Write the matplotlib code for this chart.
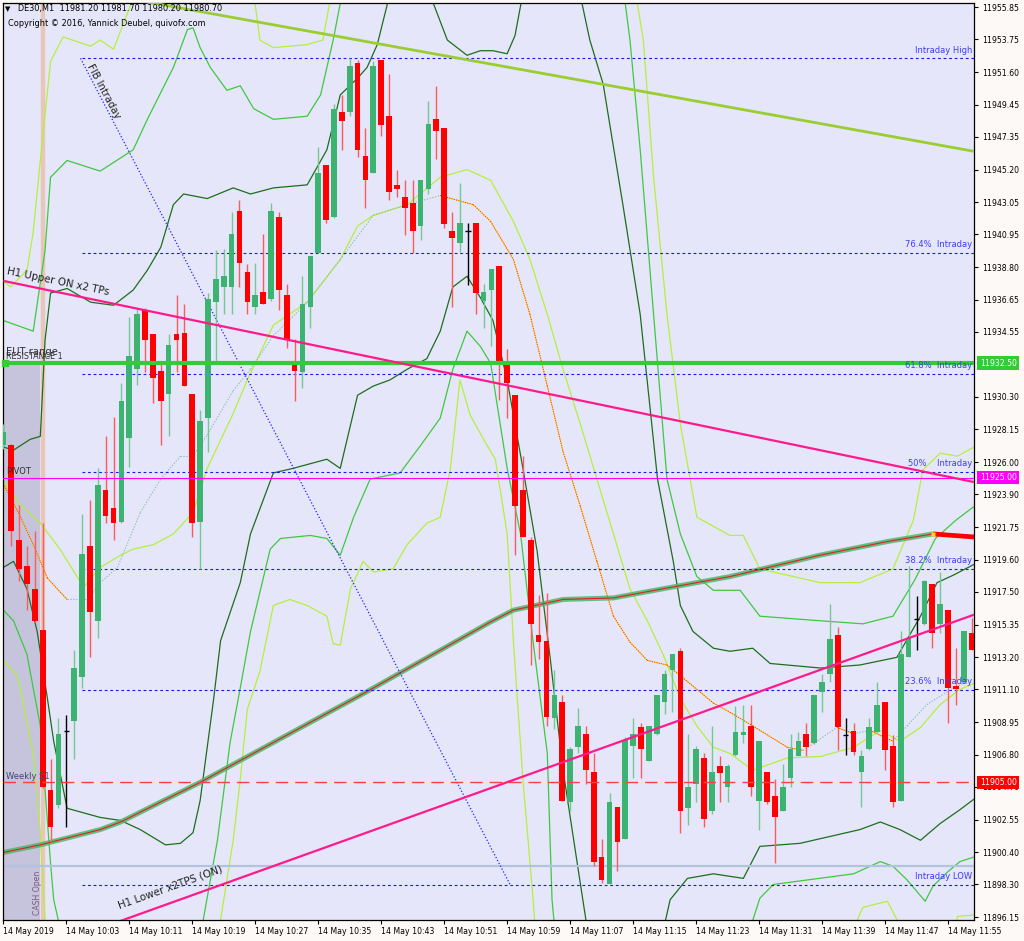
import matplotlib
matplotlib.use('Agg')
import matplotlib.pyplot as plt
import matplotlib.transforms as mtransforms

# DE30 M1 candles, bar 0 = 14 May 2019 09:55
opens = [11927.1, 11927.1, 11920.9, 11919.2, 11917.7, 11915.0, 11904.5, 11903.5, 11908.4, 11909.0,
         11911.9, 11920.5, 11915.6, 11924.2, 11923.0, 11922.1, 11927.6, 11932.1, 11936.0, 11934.4,
         11932.0, 11930.5, 11934.4, 11934.5, 11930.5, 11922.1, 11928.9, 11936.5, 11937.5, 11937.5,
         11942.5, 11938.5, 11936.2, 11937.2, 11936.7, 11942.1, 11937.0, 11932.6, 11931.9, 11936.2,
         11939.7, 11945.5, 11942.1, 11949.0, 11949.0, 11952.2, 11946.1, 11945.0, 11952.4, 11948.7,
         11944.2, 11943.4, 11943.0, 11941.5, 11943.9, 11948.5, 11947.9, 11941.2, 11940.4, 11941.2,
         11941.7, 11936.6, 11937.3, 11938.9, 11932.5, 11930.4, 11924.2, 11920.9, 11914.7, 11914.3,
         11909.2, 11910.3, 11903.7, 11907.3, 11908.2, 11905.7, 11900.1, 11898.3, 11903.4, 11901.3,
         11907.4, 11908.6, 11906.4, 11908.2, 11910.3, 11912.4, 11913.6, 11903.3, 11904.9, 11906.6,
         11903.1, 11906.1, 11904.7, 11906.8, 11908.1, 11908.7, 11903.8, 11905.7, 11904.1, 11903.1,
         11905.3, 11906.7, 11908.2, 11907.6, 11910.9, 11912.1, 11914.7, 11908.1, 11908.4, 11905.7,
         11907.2, 11908.3, 11910.3, 11907.4, 11903.8, 11913.2, 11915.7, 11915.4, 11918.0, 11915.4,
         11916.3, 11911.3, 11911.6, 11914.8]
highs = [11928.5, 11927.2, 11923.2, 11920.5, 11921.5, 11922.0, 11906.5, 11909.2, 11909.4, 11913.7,
         11922.6, 11923.5, 11925.6, 11927.7, 11929.0, 11931.2, 11935.5, 11936.1, 11936.1, 11934.4,
         11932.5, 11934.4, 11937.0, 11936.4, 11930.5, 11929.4, 11937.1, 11939.9, 11940.0, 11942.4,
         11943.2, 11939.0, 11939.1, 11941.0, 11943.0, 11942.4, 11937.7, 11934.1, 11938.2, 11939.5,
         11946.7, 11945.5, 11949.5, 11950.1, 11952.5, 11952.4, 11947.9, 11952.3, 11952.4, 11951.5,
         11945.2, 11944.5, 11944.5, 11944.5, 11949.7, 11950.7, 11947.9, 11942.4, 11944.3, 11941.7,
         11941.7, 11937.7, 11938.7, 11938.9, 11933.4, 11930.4, 11926.4, 11921.1, 11917.3, 11917.4,
         11912.4, 11910.7, 11907.3, 11909.9, 11908.7, 11906.9, 11901.3, 11904.3, 11903.4, 11908.0,
         11909.2, 11908.9, 11908.7, 11910.7, 11912.4, 11913.4, 11913.8, 11908.2, 11907.4, 11906.9,
         11908.7, 11906.7, 11906.2, 11910.0, 11910.1, 11910.1, 11907.7, 11905.7, 11905.2, 11906.2,
         11908.2, 11908.3, 11908.9, 11910.7, 11912.1, 11916.7, 11915.2, 11909.2, 11908.9, 11907.1,
         11909.2, 11911.6, 11910.3, 11908.1, 11914.9, 11919.2, 11917.2, 11918.3, 11918.0, 11918.8,
         11916.3, 11913.8, 11914.9, 11915.8]
lows = [11926.9, 11920.5, 11918.2, 11916.3, 11915.5, 11904.6, 11901.1, 11903.3, 11902.1, 11906.5,
        11911.2, 11913.2, 11914.5, 11922.0, 11920.9, 11922.0, 11925.7, 11931.1, 11931.9, 11929.9,
        11927.1, 11927.7, 11931.9, 11931.0, 11921.1, 11919.0, 11926.7, 11932.5, 11935.7, 11935.7,
        11937.5, 11935.7, 11935.7, 11936.4, 11936.6, 11936.0, 11933.5, 11930.0, 11930.9, 11934.8,
        11939.7, 11941.7, 11942.0, 11946.5, 11948.7, 11946.0, 11942.7, 11945.0, 11947.4, 11943.2,
        11943.4, 11940.9, 11939.7, 11940.6, 11943.6, 11945.9, 11941.4, 11936.2, 11939.8, 11937.6,
        11935.7, 11934.8, 11933.6, 11930.1, 11928.9, 11919.9, 11921.1, 11912.7, 11913.1, 11908.7,
        11908.5, 11903.8, 11903.1, 11906.9, 11904.9, 11899.5, 11898.4, 11898.3, 11899.2, 11901.3,
        11905.3, 11905.3, 11906.4, 11908.1, 11909.5, 11909.6, 11901.7, 11902.2, 11903.7, 11902.1,
        11902.9, 11903.7, 11903.7, 11906.7, 11907.6, 11904.1, 11901.9, 11903.6, 11899.7, 11903.1,
        11904.7, 11906.7, 11906.7, 11907.5, 11909.6, 11911.6, 11907.1, 11906.8, 11906.8, 11903.4,
        11907.1, 11908.3, 11905.8, 11903.4, 11903.8, 11913.2, 11913.7, 11915.3, 11913.8, 11914.8,
        11908.9, 11910.1, 11911.6, 11913.7]
closes = [11928.0, 11921.5, 11919.0, 11918.0, 11915.6, 11904.7, 11902.1, 11908.2, 11908.4, 11912.5,
          11920.0, 11916.2, 11924.5, 11922.5, 11922.0, 11930.0, 11933.0, 11935.7, 11934.0, 11931.5,
          11930.0, 11933.7, 11934.0, 11931.0, 11922.0, 11928.7, 11936.7, 11938.0, 11938.2, 11941.0,
          11939.1, 11936.5, 11937.0, 11936.4, 11942.5, 11937.3, 11934.0, 11932.0, 11936.4, 11939.5,
          11945.0, 11941.9, 11949.2, 11948.4, 11952.0, 11946.5, 11944.5, 11952.0, 11948.1, 11943.7,
          11943.9, 11942.7, 11941.2, 11944.5, 11948.2, 11947.7, 11941.6, 11940.7, 11941.7, 11941.2,
          11937.1, 11937.2, 11938.7, 11932.4, 11931.2, 11923.1, 11921.1, 11915.4, 11914.2, 11909.3,
          11910.7, 11903.8, 11907.2, 11908.7, 11905.8, 11899.8, 11898.6, 11903.7, 11901.1, 11907.8,
          11908.2, 11907.2, 11908.7, 11910.7, 11912.1, 11913.4, 11903.1, 11904.7, 11907.2, 11902.6,
          11905.7, 11905.6, 11906.1, 11908.3, 11908.3, 11904.7, 11907.7, 11903.7, 11902.7, 11904.7,
          11907.2, 11907.7, 11907.3, 11910.7, 11911.6, 11914.4, 11908.6, 11908.1, 11907.0, 11906.7,
          11908.6, 11910.1, 11907.1, 11903.7, 11913.4, 11914.5, 11915.7, 11918.2, 11914.8, 11916.7,
          11911.2, 11911.1, 11914.9, 11913.7]

tick_bars = [0, 8, 16, 24, 32, 40, 48, 56, 64, 72, 80, 88, 96, 104, 112, 120]
tick_labels = ['14 May 2019', '14 May 10:03', '14 May 10:11', '14 May 10:19', '14 May 10:27',
               '14 May 10:35', '14 May 10:43', '14 May 10:51', '14 May 10:59', '14 May 11:07',
               '14 May 11:15', '14 May 11:23', '14 May 11:31', '14 May 11:39', '14 May 11:47',
               '14 May 11:55']
price_ticks = [11955.85, 11953.75, 11951.60, 11949.45, 11947.35, 11945.20, 11943.05, 11940.95,
               11938.80, 11936.65, 11934.55, 11930.30, 11928.15, 11926.00, 11923.90, 11921.75,
               11919.60, 11917.50, 11915.35, 11913.20, 11911.10, 11908.95, 11906.80, 11904.70,
               11902.55, 11900.40, 11898.30, 11896.15]

# levels
resistance1 = 11932.50
pivot = 11925.00
weekly_s1 = 11905.00
range_low = 11899.52
fib_prices = [11952.50, 11939.71, 11931.78, 11925.39, 11918.99, 11911.07, 11898.27]
fib_names = ['Intraday High', '76.4%  Intraday', '61.8%  Intraday', '50%    Intraday',
             '38.2%  Intraday', '23.6%  Intraday', 'Intraday LOW']
fib_start = 10.0
fib_diag = [(9.8, 11952.50), (64.4, 11898.27)]

# trend lines (bar, price)
tl_top = [(0, 11957.9), (123.3, 11946.4)]
tl_upper = [(0, 11937.9), (123.3, 11924.7)]
tl_lower = [(0, 11893.15), (123.3, 11916.0)]

# long moving average (knots)
ma_long = [(0, 11900.4), (4.7, 11900.9), (12.3, 11901.9), (14.9, 11902.4), (25.0, 11905.0),
           (31.4, 11906.8), (46.0, 11910.9), (61.8, 11915.5), (64.8, 11916.3), (71.1, 11917.0),
           (77.5, 11917.1), (83.8, 11917.7), (92.3, 11918.5), (103.7, 11919.9), (112.3, 11920.8),
           (118.1, 11921.3), (120.6, 11921.2), (123.3, 11921.1)]
ma_turn = 118.1

# bands
dg_upper = [(0, 11927.0), (1.3, 11926.8), (3.4, 11927.5), (4.7, 11927.7), (5.3, 11934.0),
            (6.0, 11937.1), (8.1, 11937.4), (11.1, 11936.5), (14.0, 11936.3), (16.5, 11937.3),
            (18.3, 11938.6), (20.0, 11940.1), (21.6, 11942.9), (22.9, 11943.6), (25.9, 11943.3),
            (29.2, 11944.0), (31.4, 11943.6), (34.3, 11944.0), (38.6, 11944.2), (41.1, 11946.5),
            (42.8, 11950.1), (45.0, 11951.2), (46.2, 11951.9), (47.5, 11953.4), (48.8, 11956.1),
            (53.0, 11958.3), (56.4, 11953.7), (58.9, 11952.7), (60.6, 11953.0), (62.2, 11953.0),
            (64.0, 11952.8), (65.0, 11954.0), (66.3, 11957.6), (72.6, 11958.3), (74.5, 11953.7),
            (76.2, 11950.8), (78.7, 11942.9), (80.9, 11935.7), (83.1, 11924.9), (85.1, 11919.5),
            (86.0, 11916.6), (87.6, 11914.9), (90.2, 11913.8), (92.3, 11913.6), (95.2, 11913.8),
            (97.4, 11912.8), (103.8, 11912.5), (108.8, 11912.7), (113.5, 11913.2), (116.5, 11915.9),
            (118.6, 11918.1), (120.7, 11918.6), (123.3, 11919.3)]
dg_lower = [(0, 11919.1), (1.3, 11919.5), (3.0, 11917.7), (4.3, 11914.9), (5.6, 11910.5),
            (6.4, 11907.7), (8.1, 11903.3), (12.3, 11902.7), (14.9, 11902.5), (17.4, 11901.9),
            (20.6, 11900.9), (22.5, 11901.0), (24.1, 11901.7), (25.0, 11903.8), (26.7, 11910.4),
            (27.6, 11914.3), (30.1, 11918.1), (31.4, 11921.3), (34.3, 11925.3), (36.8, 11925.6),
            (41.1, 11926.2), (42.8, 11925.6), (45.0, 11930.4), (47.0, 11931.0), (49.1, 11931.4),
            (51.3, 11932.1), (53.8, 11932.8), (55.5, 11934.6), (57.1, 11937.5), (58.9, 11938.2),
            (60.6, 11936.8), (62.2, 11935.3), (64.0, 11931.4), (66.0, 11925.6), (67.8, 11920.2),
            (69.5, 11913.0), (71.1, 11905.8), (72.9, 11899.7), (74.5, 11894.3), (79.0, 11890.7),
            (83.4, 11894.3), (84.7, 11897.3), (86.9, 11898.7), (90.2, 11899.0), (94.0, 11898.7),
            (96.1, 11900.8), (101.2, 11901.0), (108.8, 11901.9), (111.4, 11902.4), (113.9, 11901.9),
            (116.5, 11901.2), (119.0, 11902.3), (121.5, 11903.2), (123.3, 11903.9)]
mg_upper = [(0, 11935.3), (3.8, 11934.6), (5.3, 11939.9), (6.0, 11944.7), (8.1, 11945.8),
            (12.3, 11945.1), (16.5, 11946.5), (18.3, 11948.5), (21.6, 11951.9), (23.4, 11954.4),
            (24.1, 11954.5), (25.0, 11953.2), (26.3, 11951.9), (28.4, 11950.4), (30.1, 11950.7),
            (31.8, 11949.2), (34.3, 11948.5), (38.6, 11948.7), (40.3, 11950.1), (41.9, 11953.7),
            (42.8, 11956.1), (45.3, 11960.3), (75.8, 11960.3), (79.0, 11956.1), (79.6, 11953.7),
            (80.9, 11946.5), (82.6, 11935.7), (84.3, 11924.9), (86.0, 11921.3), (88.1, 11918.5),
            (90.2, 11917.6), (93.6, 11917.6), (96.1, 11915.9), (103.8, 11915.6), (109.2, 11915.4),
            (113.0, 11915.9), (115.8, 11918.3), (118.4, 11921.0), (121.0, 11922.2), (123.3, 11923.1)]
mg_lower = [(0, 11916.3), (1.3, 11915.6), (3.0, 11913.4), (4.7, 11908.7), (6.0, 11899.7),
            (6.4, 11897.3), (8.1, 11893.4), (23.8, 11891.4), (25.4, 11896.0), (27.2, 11901.2),
            (28.8, 11907.6), (30.1, 11911.2), (31.4, 11914.9), (33.9, 11920.3), (35.2, 11921.0),
            (39.0, 11921.2), (41.1, 11921.0), (42.8, 11919.9), (44.5, 11922.4), (46.6, 11924.9),
            (50.4, 11925.3), (53.0, 11927.1), (55.5, 11928.9), (57.1, 11932.1), (58.9, 11934.6),
            (60.6, 11933.6), (61.9, 11932.5), (64.0, 11925.6), (65.7, 11921.3), (67.3, 11914.2),
            (69.1, 11906.9), (69.7, 11897.3), (70.4, 11893.4), (93.6, 11893.4), (96.1, 11897.4),
            (97.8, 11898.3), (108.0, 11899.0), (111.4, 11899.8), (113.0, 11899.5), (114.8, 11898.6),
            (117.1, 11897.2), (118.1, 11898.2), (119.9, 11899.1), (121.5, 11899.8), (123.3, 11900.1)]
lg_upper = [(0, 11937.9), (0.9, 11937.5), (3.0, 11938.6), (3.8, 11941.1), (4.7, 11945.8),
            (6.0, 11952.3), (7.6, 11953.9), (11.1, 11953.3), (12.3, 11953.7), (14.0, 11953.1),
            (16.1, 11955.9), (17.4, 11958.3), (31.4, 11958.3), (32.6, 11953.7), (34.3, 11953.2),
            (38.6, 11953.4), (40.6, 11953.7), (41.5, 11956.3), (42.8, 11959.0), (79.6, 11959.0),
            (81.3, 11953.7), (82.6, 11944.7), (84.3, 11935.7), (86.0, 11928.5), (88.1, 11922.4),
            (92.3, 11921.2), (94.0, 11921.2), (96.1, 11919.0), (103.8, 11918.1), (108.8, 11918.1),
            (113.0, 11919.0), (115.6, 11922.2), (116.8, 11925.5), (119.0, 11926.6), (121.2, 11926.4),
            (123.3, 11927.0)]
lg_lower = [(0, 11913.0), (1.8, 11912.0), (3.8, 11906.9), (4.7, 11901.7), (5.3, 11896.0),
            (6.0, 11890.7), (25.0, 11890.7), (27.6, 11896.0), (29.2, 11901.2), (30.1, 11905.2),
            (31.0, 11909.8), (32.6, 11912.3), (34.3, 11916.6), (36.4, 11917.0), (38.6, 11916.6),
            (41.1, 11915.9), (41.9, 11914.1), (42.8, 11914.0), (44.1, 11917.7), (45.7, 11919.5),
            (47.0, 11918.8), (49.5, 11919.0), (51.3, 11920.6), (53.8, 11922.0), (55.5, 11922.4),
            (56.8, 11925.6), (58.0, 11931.4), (59.3, 11929.1), (61.0, 11927.5), (62.5, 11926.2),
            (64.0, 11921.3), (64.8, 11914.2), (66.0, 11905.2), (67.3, 11897.3), (68.2, 11890.7),
            (106.3, 11890.7), (108.5, 11896.0), (109.2, 11896.8), (112.3, 11897.2), (113.5, 11896.0),
            (114.6, 11890.7), (119.6, 11890.7), (121.2, 11896.2), (123.3, 11896.3)]
mid_line = [(0, 11924.8), (2.2, 11923.2), (4.7, 11922.0), (7.2, 11920.3), (10.2, 11917.8),
            (12.3, 11919.1), (14.9, 11919.9), (16.5, 11920.3), (19.1, 11920.6), (21.6, 11921.3),
            (24.1, 11922.7), (25.9, 11925.6), (29.2, 11929.2), (31.0, 11931.4), (34.3, 11935.0),
            (38.6, 11936.5), (42.8, 11939.3), (45.0, 11941.5), (47.0, 11942.2), (51.3, 11942.9),
            (55.5, 11944.7), (58.9, 11945.2), (61.9, 11944.5), (64.8, 11941.8), (66.9, 11939.3),
            (69.1, 11935.7), (71.1, 11932.1), (73.3, 11928.5), (75.4, 11924.9), (77.5, 11921.3),
            (79.6, 11917.7), (81.8, 11915.6), (83.8, 11913.4), (86.0, 11910.5), (88.1, 11908.7),
            (90.2, 11907.3), (92.3, 11906.9), (95.2, 11905.8), (99.6, 11906.6), (103.8, 11906.7),
            (108.0, 11907.3), (111.4, 11908.4), (113.9, 11907.7), (116.5, 11908.6), (119.0, 11910.1),
            (121.5, 11911.1), (123.3, 11911.5)]
ma_fast = [(0, 11924.6), (2.2, 11922.4), (3.8, 11920.6), (5.6, 11918.4), (8.1, 11917.0),
           (10.7, 11917.0), (12.3, 11918.1), (14.5, 11919.1), (17.4, 11922.7), (20.0, 11924.9),
           (22.5, 11926.4), (24.1, 11926.4), (25.9, 11927.8), (29.2, 11930.7), (31.4, 11932.1),
           (34.3, 11934.3), (38.6, 11936.5), (42.8, 11939.3), (47.0, 11942.2), (51.3, 11942.9),
           (55.5, 11943.5), (59.7, 11942.9), (61.9, 11941.8), (64.8, 11939.3), (66.9, 11935.7),
           (69.1, 11931.0), (71.1, 11926.7), (73.3, 11923.1), (75.4, 11919.5), (77.5, 11915.9),
           (79.6, 11914.2), (81.8, 11913.0), (84.3, 11912.7), (86.0, 11912.0), (90.2, 11910.2),
           (92.3, 11909.6), (95.2, 11908.7), (99.6, 11907.3), (101.6, 11907.1), (105.9, 11908.6),
           (108.0, 11908.2), (110.1, 11908.4), (113.0, 11907.7), (114.8, 11908.7), (117.3, 11910.1),
           (120.7, 11911.2), (122.4, 11911.6)]

cash_open_bar = 5
eut_range_end = 4.7

W, H = 1024, 941
fig = plt.figure(figsize=(W / 100, H / 100), dpi=100, facecolor='#fdf9f6')
ax = fig.add_axes([3 / W, 21 / H, 971 / W, 917 / H], facecolor='#e6e6fa')
ax.set_xlim(-0.04, 123.3)
ax.set_ylim(11895.97, 11956.13)


def xy(pts):
    return [p[0] for p in pts], [p[1] for p in pts]


# EUT range box and cash open line
ax.fill_between([-1, eut_range_end], 11880, resistance1, color='#c6c3dd', lw=0, zorder=0.5)
ax.axvline(cash_open_bar, color='#e9c7b8', lw=3.2, zorder=0.6)

# bands
for pts, col in [(lg_upper, '#b4f03c'), (lg_lower, '#b4f03c'),
                 (mg_upper, '#3fc83f'), (mg_lower, '#3fc83f'),
                 (dg_upper, '#1c6e1c'), (dg_lower, '#1c6e1c'),
                 (mid_line, '#b4f03c')]:
    bx, by = xy(pts)
    ax.plot(bx, by, color=col, lw=0.9, zorder=1.5)

# fast dotted MA, coloured by direction
fx, fy = xy(ma_fast)
for i in range(len(fx) - 1):
    if fy[i + 1] < fy[i]:
        ax.plot(fx[i:i + 2], fy[i:i + 2], color='#ffd700', lw=0.6, zorder=1.6)
        ax.plot(fx[i:i + 2], fy[i:i + 2], color='#ff3c00', lw=0.7, ls=(0, (1.2, 1.2)), zorder=1.7)
    else:
        ax.plot(fx[i:i + 2], fy[i:i + 2], color='#86c4a4', lw=0.8, ls=(0, (1.2, 1.4)), zorder=1.7)

# long MA: green with red core, turning red at the end
mx, my = xy(ma_long)
k = mx.index(ma_turn)
ax.plot(mx[:k + 1], my[:k + 1], color='#4cb86c', lw=3.6, alpha=0.85, zorder=1.8,
        solid_capstyle='butt')
ax.plot(mx[:k + 1], my[:k + 1], color='#e02020', lw=0.8, zorder=1.9)
ax.plot(mx[k:], my[k:], color='#ff0000', lw=3.4, zorder=1.9, solid_capstyle='butt')
ax.plot([ma_turn], [my[k]], 's', ms=3, color='#ffe000', mec='none', zorder=2)

# candles
bull, bear = '#3cb371', '#ff0000'
for i in range(len(opens)):
    o, h, l, c = opens[i], highs[i], lows[i], closes[i]
    if c > o:
        body, wick = bull, '#74c993'
    elif c < o:
        body, wick = bear, '#ff5a5a'
    else:
        body, wick = 'black', 'black'
    ax.vlines(i, l, h, color=wick, lw=1.0, zorder=3)
    if c == o:
        ax.hlines(c, i - 0.35, i + 0.35, color='black', lw=1.0, zorder=3.1)
    else:
        lo = min(o, c)
        ht = max(abs(c - o), 0.08)
        ax.bar(i, ht, bottom=lo, width=0.72, color=body, lw=0, zorder=3.1)

# horizontal levels
ax.axhline(range_low, color='#b0c4de', lw=1.6, zorder=2.2)
ax.axhline(resistance1, color='#32cd32', lw=3.0, zorder=4)
ax.plot([0.2], [resistance1], 's', ms=5, color='#32cd32', zorder=4.1, clip_on=False)
ax.axhline(pivot, color='#ff00ff', lw=0.8, zorder=4)
ax.axhline(weekly_s1, color='#ff4040', lw=1.0, ls=(0, (9, 5)), zorder=4)

# fibonacci
for p, name in zip(fib_prices, fib_names):
    ax.plot([fib_start, 123.3], [p, p], color='#1414ff', lw=0.8, ls=(0, (2.5, 2.5)), zorder=2.4)
    ax.text(123.1, p + 0.25, name, ha='right', va='bottom', fontsize=6.0, color='#3c3cff',
            zorder=5)
dx, dy = xy(fib_diag)
ax.plot(dx, dy, color='#2020ff', lw=0.9, ls=(0, (1, 1.6)), zorder=2.4)

# trend lines
for pts, col, lw in [(tl_top, '#9acd32', 2.0), (tl_upper, '#ff1a8c', 1.6), (tl_lower, '#ff1a8c', 1.6)]:
    tx, ty = xy(pts)
    ax.plot(tx, ty, color=col, lw=lw, zorder=4.2, solid_capstyle='butt')

# text labels on chart
ax.text(10.4, 11951.9, 'FIB Intraday', rotation=-62, rotation_mode='anchor', ha='left',
        va='bottom', fontsize=7.2, color='#202020', zorder=5)
ax.text(0.3, 11938.2, 'H1 Upper ON x2 TPs', rotation=-11.7, rotation_mode='anchor', ha='left',
        va='bottom', fontsize=7.4, color='#202020', zorder=5)
ax.text(14.8, 11896.6, 'H1 Lower x2TPS (ON)', rotation=19.7, rotation_mode='anchor', ha='left',
        va='bottom', fontsize=7.4, color='#202020', zorder=5)
ax.text(0.3, 11932.9, 'EUT range', ha='left', va='bottom', fontsize=7.2, color='#303030', zorder=5)
ax.text(0.3, 11932.65, 'RESISTANCE 1', ha='left', va='bottom', fontsize=5.8, color='#303030',
        zorder=5)
ax.text(0.3, 11925.1, 'PIVOT', ha='left', va='bottom', fontsize=6.0, color='#303030', zorder=5)
ax.text(0.3, 11905.1, 'Weekly S1', ha='left', va='bottom', fontsize=6.0, color='#45456a', zorder=5)
ax.text(4.4, 11896.3, 'CASH Open', rotation=90, ha='center', va='bottom', fontsize=5.6,
        color='#7a5a7c', zorder=5)

# axes
ax.yaxis.tick_right()
ax.set_yticks(price_ticks)
ax.set_yticklabels(['%.2f' % p for p in price_ticks])
ax.set_xticks(tick_bars)
ax.set_xticklabels(tick_labels)
ax.tick_params(axis='y', length=3, width=0.8, pad=3, labelsize=5.6, colors='black')
ax.tick_params(axis='x', length=3, width=0.8, pad=2, labelsize=5.6, colors='black')
for lab in ax.get_xticklabels():
    lab.set_ha('left')
for s in ax.spines.values():
    s.set_color('black')
    s.set_linewidth(0.9)

# price boxes on the right axis
bt = mtransforms.blended_transform_factory(ax.transAxes, ax.transData)
for p, col in [(resistance1, '#32cd32'), (pivot, '#ff00ff'), (weekly_s1, '#ff0000')]:
    ax.text(1.006, p, '%.2f' % p, transform=bt, ha='left', va='center', fontsize=5.6,
            color='white', clip_on=False, zorder=6,
            bbox=dict(boxstyle='square,pad=0.3', fc=col, ec='none'))

# header
fig.text(5 / W, 1 - 9 / H, '\u25bc', fontsize=5, va='center', ha='left')
fig.text(18 / W, 1 - 9 / H, 'DE30,M1  11981.20 11981.70 11980.20 11980.70', fontsize=5.9,
         va='center', ha='left')
fig.text(8 / W, 1 - 23 / H, 'Copyright \u00a9 2016, Yannick Deubel, quivofx.com', fontsize=5.9,
         va='center', ha='left')

fig.savefig('out.png', dpi=100, facecolor=fig.get_facecolor())
